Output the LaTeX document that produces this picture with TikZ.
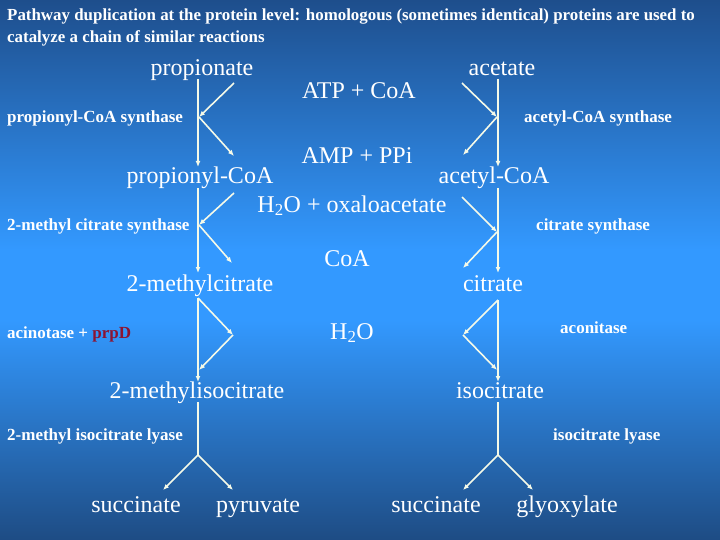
\documentclass[tikz,border=0pt]{standalone}
\usepackage{fontspec}
\setmainfont{Liberation Serif}
\usetikzlibrary{arrows.meta}
\definecolor{bgtop}{RGB}{30,78,140}
\definecolor{bgmid}{RGB}{51,153,255}
\definecolor{bgbot}{RGB}{30,76,132}
\definecolor{linecol}{RGB}{245,250,232}
\definecolor{prpd}{RGB}{140,20,50}
\begin{document}
\begin{tikzpicture}[x=1pt,y=-1pt,
  big/.style={font=\fontsize{24}{28}\selectfont, text=white, inner sep=0pt, anchor=base},
  lab/.style={font=\fontsize{17}{20}\selectfont\bfseries, text=white, inner sep=0pt, anchor=base west},
  ttl/.style={font=\fontsize{16.9}{20}\selectfont\bfseries, text=white, inner sep=0pt, anchor=base west},
  conn/.style={draw=linecol, line width=1.6pt, -{Latex[length=6pt,width=5pt]}},
  plainline/.style={draw=linecol, line width=1.6pt}]
\useasboundingbox (0,0) rectangle (720,540);
\shade[top color=bgtop, bottom color=bgmid] (0,0) rectangle (720,250);
\fill[bgmid] (0,249.5) rectangle (720,320.5);
\shade[top color=bgmid, bottom color=bgbot] (0,320) rectangle (720,540);

% title
\node[ttl] (t1) at (7,21) {Pathway duplication at the protein level: homologous (sometimes identical) proteins are used to};
\node[ttl] (t2) at (7,43) {catalyze a chain of similar reactions};

% big texts
\node[big] (prop) at (202,76) {propionate};
\node[big] (atp) at (359,99) {ATP + CoA};
\node[big] (acet) at (502,76) {acetate};
\node[big] (amp) at (357,164) {AMP + PPi};
\node[big] (pcoa) at (200,184) {propionyl-CoA};
\node[big] (acoa) at (494,184) {acetyl-CoA};
\node[big] (oxa) at (352,212) {H\textsubscript{2}O + oxaloacetate};
\node[big] (mcit) at (200,291) {2-methylcitrate};
\node[big] (coa) at (347,266) {CoA};
\node[big] (cit) at (493,291) {citrate};
\node[big] (water) at (352,339) {H\textsubscript{2}O};
\node[big] (micit) at (197,398) {2-methylisocitrate};
\node[big] (icit) at (500,398) {isocitrate};
\node[big] (succL) at (136,512) {succinate};
\node[big] (pyr) at (258,512) {pyruvate};
\node[big] (succR) at (436,512) {succinate};
\node[big] (glyox) at (567,512) {glyoxylate};

% enzyme labels
\node[lab] (e1) at (7,123) {propionyl-CoA synthase};
\node[lab] (e2) at (524,123) {acetyl-CoA synthase};
\node[lab] (e3) at (7,230) {2-methyl citrate synthase};
\node[lab] (e4) at (536,230) {citrate synthase};
\node[lab] (e5) at (7,338) {acinotase + \textcolor{prpd}{prpD}};
\node[lab] (e6) at (560,333) {aconitase};
\node[lab] (e7) at (7,440) {2-methyl isocitrate lyase};
\node[lab] (e8) at (553,440) {isocitrate lyase};

% coordinates, left column
\coordinate (L1a) at (198,79);  \coordinate (L1b) at (198,167);
\coordinate (L1s) at (234,83);  \coordinate (L1j) at (199,117); \coordinate (L1e) at (234,156);
\coordinate (L2a) at (198,188); \coordinate (L2b) at (198,273);
\coordinate (L2s) at (234,193); \coordinate (L2j) at (199,225); \coordinate (L2e) at (232,263);
\coordinate (L3a) at (198,298); \coordinate (L3b) at (198,382);
\coordinate (L3e) at (233,335); \coordinate (L3j) at (199,370);
\coordinate (L4a) at (198,402); \coordinate (L4j) at (198,455);
\coordinate (L4l) at (163,490); \coordinate (L4r) at (233,490);
% right column
\coordinate (R1a) at (498,79);  \coordinate (R1b) at (498,167);
\coordinate (R1s) at (462,83);  \coordinate (R1j) at (497,117); \coordinate (R1e) at (463,155);
\coordinate (R2a) at (498,188); \coordinate (R2b) at (498,273);
\coordinate (R2s) at (462,197); \coordinate (R2j) at (497,232); \coordinate (R2e) at (463,268);
\coordinate (R3a) at (498,300); \coordinate (R3b) at (498,382);
\coordinate (R3e) at (463,335); \coordinate (R3j) at (497,370);
\coordinate (R4a) at (498,402); \coordinate (R4j) at (498,455);
\coordinate (R4l) at (463,490); \coordinate (R4r) at (533,490);

% left connectors
\draw[conn] (L1a) -- (L1b);
\draw[conn] (L1s) -- (L1j);
\draw[conn] (L1j) -- (L1e);
\draw[conn] (L2a) -- (L2b);
\draw[conn] (L2s) -- (L2j);
\draw[conn] (L2j) -- (L2e);
\draw[conn] (L3a) -- (L3b);
\draw[conn] (L3a) -- (L3e);
\draw[conn] (L3e) -- (L3j);
\draw[plainline] (L4a) -- (L4j);
\draw[conn] (L4j) -- (L4l);
\draw[conn] (L4j) -- (L4r);
% right connectors
\draw[conn] (R1a) -- (R1b);
\draw[conn] (R1s) -- (R1j);
\draw[conn] (R1j) -- (R1e);
\draw[conn] (R2a) -- (R2b);
\draw[conn] (R2s) -- (R2j);
\draw[conn] (R2j) -- (R2e);
\draw[conn] (R3a) -- (R3b);
\draw[conn] (R3a) -- (R3e);
\draw[conn] (R3e) -- (R3j);
\draw[plainline] (R4a) -- (R4j);
\draw[conn] (R4j) -- (R4l);
\draw[conn] (R4j) -- (R4r);
\end{tikzpicture}
\end{document}
